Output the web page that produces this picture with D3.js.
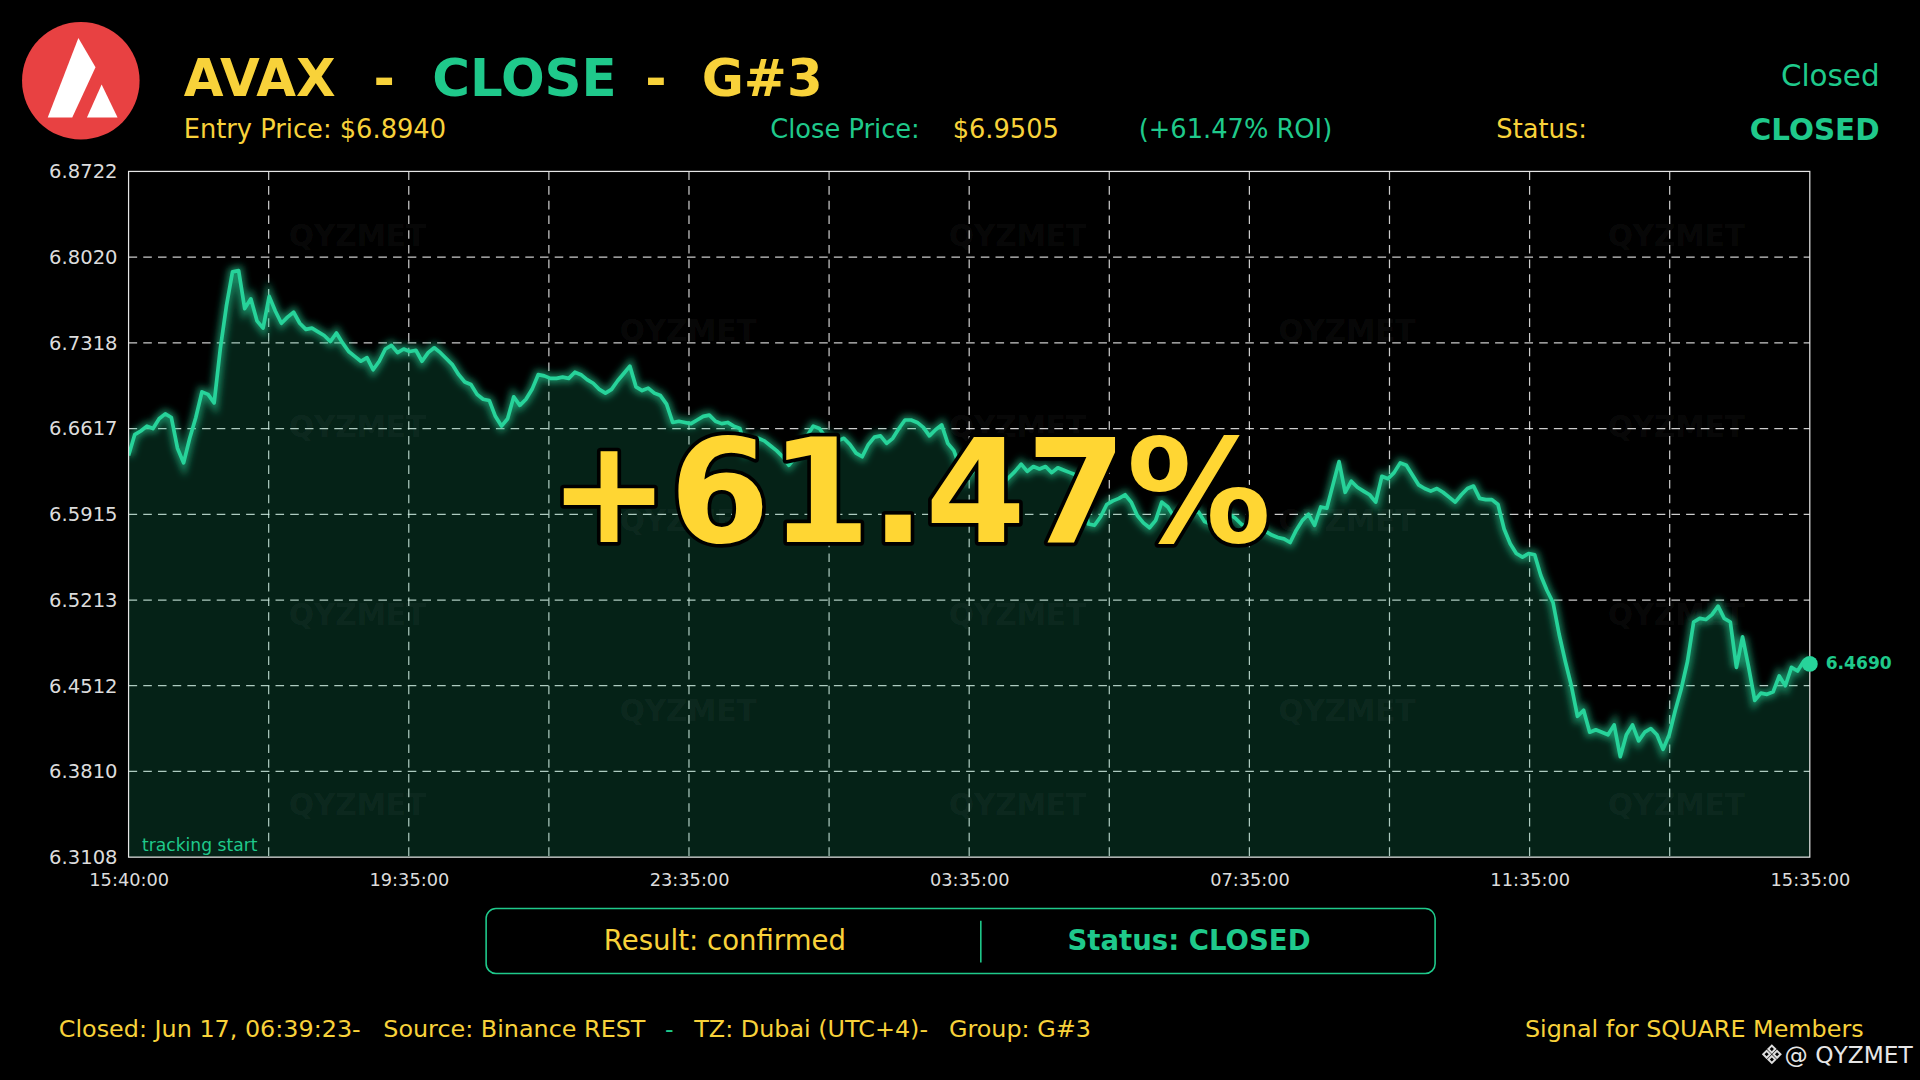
<!DOCTYPE html>
<html>
<head>
<meta charset="utf-8">
<script src="https://cdn.jsdelivr.net/npm/d3@7/dist/d3.min.js"></script>
<style>
  html, body { margin: 0; padding: 0; background: #000; }
  svg { display: block; font-family: "DejaVu Sans", sans-serif; }
</style>
</head>
<body>
<script>
// price every 5 min, 15:40 -> 15:35 next day
var prices = [
  6.6396, 6.6567, 6.6597, 6.6637, 6.6617, 6.6697, 6.6737, 6.6707, 6.6456, 6.6336,
  6.6537, 6.6707, 6.6917, 6.6897, 6.6827, 6.7268, 6.7619, 6.7900, 6.7910, 6.7599,
  6.7679, 6.7499, 6.7439, 6.7699, 6.7579, 6.7479, 6.7529, 6.7569, 6.7479, 6.7429,
  6.7439, 6.7409, 6.7379, 6.7329, 6.7399, 6.7318, 6.7248, 6.7208, 6.7168, 6.7198,
  6.7098, 6.7168, 6.7268, 6.7298, 6.7238, 6.7268, 6.7248, 6.7258, 6.7168, 6.7238,
  6.7278, 6.7238, 6.7188, 6.7138, 6.7058, 6.6998, 6.6978, 6.6897, 6.6857, 6.6847,
  6.6717, 6.6637, 6.6697, 6.6877, 6.6807, 6.6857, 6.6938, 6.7058, 6.7048, 6.7028,
  6.7028, 6.7038, 6.7028, 6.7078, 6.7058, 6.7018, 6.6988, 6.6938, 6.6907, 6.6938,
  6.7008, 6.7068, 6.7128, 6.6958, 6.6928, 6.6948, 6.6907, 6.6887, 6.6817, 6.6667,
  6.6677, 6.6667, 6.6657, 6.6687, 6.6717, 6.6727, 6.6677, 6.6657, 6.6667, 6.6637,
  6.6617, 6.6436, 6.6496, 6.6537, 6.6516, 6.6476, 6.6436, 6.6386, 6.6316, 6.6376,
  6.6446, 6.6557, 6.6637, 6.6617, 6.6547, 6.6527, 6.6516, 6.6537, 6.6486, 6.6416,
  6.6386, 6.6486, 6.6547, 6.6557, 6.6496, 6.6537, 6.6617, 6.6687, 6.6687, 6.6667,
  6.6627, 6.6557, 6.6607, 6.6647, 6.6496, 6.6436, 6.6296, 6.6196, 6.6256, 6.6326,
  6.6196, 6.6256, 6.6336, 6.6166, 6.6216, 6.6266, 6.6326, 6.6266, 6.6306, 6.6286,
  6.6306, 6.6256, 6.6296, 6.6276, 6.6256, 6.6236, 6.6095, 6.5835, 6.5825, 6.5895,
  6.5995, 6.6025, 6.6045, 6.6075, 6.6015, 6.5905, 6.5845, 6.5805, 6.5865, 6.6015,
  6.5975, 6.5895, 6.5935, 6.5955, 6.5925, 6.5935, 6.5855, 6.5835, 6.5925, 6.5875,
  6.5915, 6.5885, 6.5835, 6.5805, 6.5815, 6.5785, 6.5775, 6.5745, 6.5725, 6.5714,
  6.5684, 6.5785, 6.5865, 6.5915, 6.5825, 6.5975, 6.5965, 6.6156, 6.6346, 6.6095,
  6.6186, 6.6136, 6.6105, 6.6075, 6.6015, 6.6226, 6.6206, 6.6256, 6.6336, 6.6316,
  6.6236, 6.6156, 6.6126, 6.6105, 6.6126, 6.6095, 6.6055, 6.6015, 6.6075, 6.6126,
  6.6146, 6.6045, 6.6035, 6.6035, 6.5995, 6.5795, 6.5674, 6.5594, 6.5564, 6.5594,
  6.5584, 6.5414, 6.5293, 6.5193, 6.4933, 6.4712, 6.4511, 6.4261, 6.4311, 6.4131,
  6.4151, 6.4131, 6.4110, 6.4191, 6.3930, 6.4110, 6.4191, 6.4060, 6.4131, 6.4161,
  6.4110, 6.3990, 6.4110, 6.4311, 6.4491, 6.4712, 6.5033, 6.5063, 6.5053, 6.5093,
  6.5163, 6.5063, 6.5033, 6.4662, 6.4912, 6.4662, 6.4391, 6.4451, 6.4441, 6.4461,
  6.4592, 6.4511, 6.4662, 6.4632, 6.4712, 6.4690
];
var xLabels = ["15:40:00", "19:35:00", "23:35:00", "03:35:00", "07:35:00", "11:35:00", "15:35:00"];
var yTicks = [6.3108, 6.3810, 6.4512, 6.5213, 6.5915, 6.6617, 6.7318, 6.8020, 6.8722];

var GREEN = "#1fc98b", YELLOW = "#f8d23a", LINE = "#27d39a";
var W = 1568, H = 882;
var m = {left: 105, right: 1478, top: 140, bottom: 700};

var svg = d3.select("body").append("svg")
    .attr("width", 1920).attr("height", 1080)
    .attr("viewBox", "0 0 " + W + " " + H);
svg.append("rect").attr("width", W).attr("height", H).attr("fill", "#000");

var defs = svg.append("defs");
defs.append("filter").attr("id", "glow")
    .attr("x", "-5%").attr("y", "-5%").attr("width", "110%").attr("height", "110%")
  .append("feGaussianBlur").attr("stdDeviation", 3);
defs.append("clipPath").attr("id", "plotclip")
  .append("rect").attr("x", m.left).attr("y", m.top)
    .attr("width", m.right - m.left).attr("height", m.bottom - m.top);

var n = prices.length;
var x = d3.scaleLinear().domain([0, n - 1]).range([m.left, m.right]);
var y = d3.scaleLinear().domain([yTicks[0], yTicks[yTicks.length - 1]]).range([m.bottom, m.top]);

// ---- header ----
var logo = svg.append("g").attr("transform", "translate(66,66)");
logo.append("circle").attr("r", 48).attr("fill", "#e84142");
logo.append("path").attr("fill", "#fff")
    .attr("d", "M-27,30 L-2,-35 L12,-11 L-7,30 Z");
logo.append("path").attr("fill", "#fff")
    .attr("d", "M5,30 L17,3 L30,30 Z");

var title = svg.append("text").attr("y", 78).attr("font-size", 42).attr("font-weight", "bold");
title.append("tspan").attr("x", 150).attr("fill", YELLOW).text("AVAX");
title.append("tspan").attr("x", 305).attr("fill", YELLOW).text("-");
title.append("tspan").attr("x", 353).attr("fill", GREEN).text("CLOSE");
title.append("tspan").attr("x", 527).attr("fill", YELLOW).text("-");
title.append("tspan").attr("x", 573).attr("fill", YELLOW).text("G#3");

var sub = svg.append("text").attr("y", 113).attr("font-size", 21);
sub.append("tspan").attr("x", 150).attr("fill", YELLOW).text("Entry Price: $6.8940");
sub.append("tspan").attr("x", 629).attr("fill", GREEN).text("Close Price:");
sub.append("tspan").attr("x", 778).attr("fill", YELLOW).text("$6.9505");
sub.append("tspan").attr("x", 930).attr("fill", GREEN).text("(+61.47% ROI)");
sub.append("tspan").attr("x", 1222).attr("fill", YELLOW).text("Status:");

svg.append("text").attr("x", 1535).attr("y", 70).attr("text-anchor", "end")
    .attr("font-size", 24).attr("fill", GREEN).text("Closed");
svg.append("text").attr("x", 1535).attr("y", 114).attr("text-anchor", "end")
    .attr("font-size", 24).attr("font-weight", "bold").attr("fill", GREEN).text("CLOSED");

// ---- plot ----
var plot = svg.append("g");

var vGrid = d3.range(1, 12).map(function(j) { return (n - 1) * j / 12; });
plot.selectAll(".vgrid").data(vGrid).join("line")
    .attr("x1", function(d) { return x(d); }).attr("x2", function(d) { return x(d); })
    .attr("y1", m.top).attr("y2", m.bottom)
    .attr("stroke", "#fff").attr("stroke-opacity", 0.8).attr("stroke-width", 1)
    .attr("stroke-dasharray", "7,5");
plot.selectAll(".hgrid").data(yTicks.slice(1, -1)).join("line")
    .attr("x1", m.left).attr("x2", m.right)
    .attr("y1", function(d) { return y(d); }).attr("y2", function(d) { return y(d); })
    .attr("stroke", "#fff").attr("stroke-opacity", 0.8).attr("stroke-width", 1)
    .attr("stroke-dasharray", "7,5");

var area = d3.area()
    .x(function(d, i) { return x(i); })
    .y0(m.bottom)
    .y1(function(d) { return y(d); });
plot.append("path").datum(prices).attr("d", area)
    .attr("fill", "#1fc98b").attr("fill-opacity", 0.17);

// watermarks
var wmA = [292, 831, 1369], wmB = [562, 1100];
var marks = [];
[192, 348, 502, 657].forEach(function(yy) { wmA.forEach(function(xx) { marks.push([xx, yy]); }); });
[270, 425, 580].forEach(function(yy) { wmB.forEach(function(xx) { marks.push([xx, yy]); }); });
plot.selectAll(".wm").data(marks).join("text")
    .attr("x", function(d) { return d[0]; }).attr("y", function(d) { return d[1]; })
    .attr("dy", "0.36em").attr("text-anchor", "middle")
    .attr("font-size", 24).attr("font-weight", "bold")
    .attr("fill", "#fff").attr("fill-opacity", 0.055).text("QYZMET");

var line = d3.line()
    .x(function(d, i) { return x(i); })
    .y(function(d) { return y(d); });
var lines = plot.append("g").attr("clip-path", "url(#plotclip)");
lines.append("path").datum(prices).attr("d", line)
    .attr("fill", "none").attr("stroke", LINE).attr("stroke-width", 7)
    .attr("stroke-opacity", 0.6).attr("filter", "url(#glow)");
lines.append("path").datum(prices).attr("d", line)
    .attr("fill", "none").attr("stroke", LINE).attr("stroke-width", 3)
    .attr("stroke-linejoin", "round");

// frame
plot.append("rect").attr("x", m.left).attr("y", m.top)
    .attr("width", m.right - m.left).attr("height", m.bottom - m.top)
    .attr("fill", "none").attr("stroke", "#e6e6e6").attr("stroke-width", 1);

// axes
var yAxis = svg.append("g").attr("transform", "translate(" + m.left + ",0)")
    .call(d3.axisLeft(y).tickValues(yTicks).tickFormat(d3.format(".4f")).tickSize(0).tickPadding(9));
yAxis.select(".domain").remove();
yAxis.selectAll("text").attr("fill", "#dcdcdc").attr("font-size", 16)
    .attr("font-family", "DejaVu Sans");

var xTicks = xLabels.map(function(d, i) { return (n - 1) * i / (xLabels.length - 1); });
var xAxis = svg.append("g").attr("transform", "translate(0," + m.bottom + ")")
    .call(d3.axisBottom(x).tickValues(xTicks)
      .tickFormat(function(d, i) { return xLabels[i]; }).tickSize(0).tickPadding(13));
xAxis.select(".domain").remove();
xAxis.selectAll("text").attr("fill", "#dcdcdc").attr("font-size", 14.5)
    .attr("font-family", "DejaVu Sans");

svg.append("text").attr("x", 116).attr("y", 695).attr("font-size", 14)
    .attr("fill", GREEN).text("tracking start");

// last point
var last = prices[n - 1];
svg.append("circle").attr("cx", x(n - 1)).attr("cy", y(last)).attr("r", 6.5).attr("fill", LINE);
svg.append("text").attr("x", x(n - 1) + 13).attr("y", y(last) + 4.5)
    .attr("font-size", 14).attr("font-weight", "bold").attr("fill", GREEN)
    .text(last.toFixed(4));

// big ROI
svg.append("text").attr("x", 743).attr("y", 443).attr("text-anchor", "middle")
    .attr("font-size", 118).attr("font-weight", "bold")
    .attr("fill", "#ffd633").attr("stroke", "#000").attr("stroke-width", 6)
    .attr("stroke-linejoin", "round").attr("paint-order", "stroke")
    .text("+61.47%");

// ---- result box ----
svg.append("rect").attr("x", 397).attr("y", 742).attr("width", 775).attr("height", 53)
    .attr("rx", 8).attr("fill", "#000").attr("stroke", GREEN).attr("stroke-width", 1.3);
svg.append("line").attr("x1", 801).attr("x2", 801).attr("y1", 752).attr("y2", 786)
    .attr("stroke", GREEN).attr("stroke-width", 1.3);
svg.append("text").attr("x", 592).attr("y", 776).attr("text-anchor", "middle")
    .attr("font-size", 22.5).attr("fill", YELLOW).text("Result: confirmed");
svg.append("text").attr("x", 971).attr("y", 776).attr("text-anchor", "middle")
    .attr("font-size", 22.5).attr("font-weight", "bold").attr("fill", GREEN).text("Status: CLOSED");

// ---- footer ----
var foot = svg.append("text").attr("y", 847).attr("font-size", 19.5).attr("fill", YELLOW);
foot.append("tspan").attr("x", 48).text("Closed: Jun 17, 06:39:23-");
foot.append("tspan").attr("x", 313).text("Source: Binance REST");
foot.append("tspan").attr("x", 543).attr("fill", GREEN).text("-");
foot.append("tspan").attr("x", 567).text("TZ: Dubai (UTC+4)-");
foot.append("tspan").attr("x", 775).text("Group: G#3");
svg.append("text").attr("x", 1522).attr("y", 847).attr("text-anchor", "end")
    .attr("font-size", 19.5).attr("fill", YELLOW).text("Signal for SQUARE Members");

var icon = svg.append("g").attr("transform", "translate(1447,861) rotate(45)")
    .attr("fill", "none").attr("stroke", "#ddd").attr("stroke-width", 1.6);
[[-5, -5], [1, -5], [-5, 1], [1, 1]].forEach(function(p) {
  icon.append("rect").attr("x", p[0]).attr("y", p[1]).attr("width", 4).attr("height", 4);
});
svg.append("text").attr("x", 1562).attr("y", 868).attr("text-anchor", "end")
    .attr("font-size", 19).attr("fill", "#e6e6e6").text("@ QYZMET");
</script>
</body>
</html>
